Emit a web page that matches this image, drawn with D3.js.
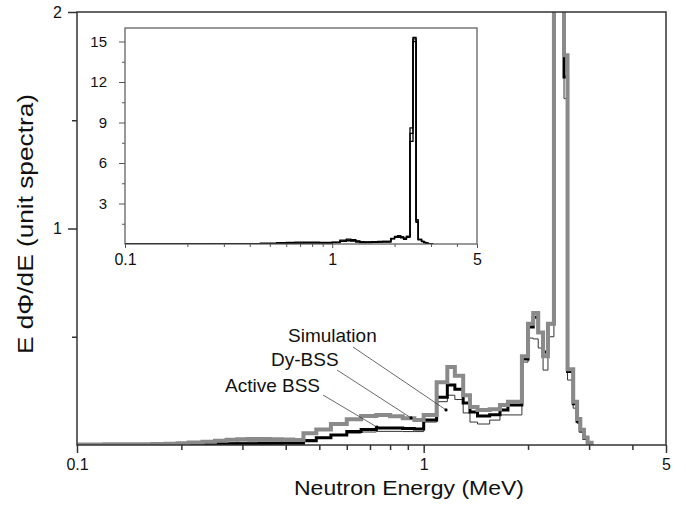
<!DOCTYPE html>
<html><head><meta charset="utf-8">
<script src="https://cdn.jsdelivr.net/npm/d3@7"></script>
<style>body{margin:0;background:#fff}svg{display:block}text{font-family:"Liberation Sans",Arial,sans-serif;fill:#111}</style>
</head><body>
<svg id="c" width="686" height="505"></svg>
<script>
// Energy bin edges (MeV)
const energyEdges = [0.1,0.11,0.12,0.13,0.14,0.15,0.165,0.18,0.195,0.21,0.23,0.25,0.27,0.29,0.31,0.335,0.36,0.39,0.42,0.45,
  0.49,0.54,0.6,0.66,0.73,0.8,0.87,0.94,1.0,
  1.09,1.17,1.23,1.30,1.36,1.43,1.55,1.66,1.75,1.92,2.0,2.07,2.14,2.21,2.283,2.375,2.455,2.54,2.6,2.7,2.77,2.83,2.9,2.97,3.05];
// Dy-BSS (grey thick)
const dyBSS = [0.002,0.002,0.003,0.003,0.004,0.004,0.005,0.006,0.008,0.011,0.015,0.02,0.024,0.027,0.028,0.028,0.027,0.025,0.023,
  0.054,0.072,0.097,0.119,0.134,0.139,0.133,0.124,0.115,
  0.139,0.29,0.36,0.32,0.23,0.176,0.162,0.165,0.185,0.2,0.41,0.56,0.61,0.52,0.41,0.56,8.6,15.3,1.8,0.35,0.2,0.12,0.07,0.035,0.01];
// Active BSS (black)
const activeBSS = [0.001,0.001,0.001,0.001,0.002,0.002,0.002,0.003,0.003,0.004,0.004,0.005,0.005,0.006,0.006,0.007,0.007,0.008,0.008,
  0.02,0.034,0.046,0.062,0.072,0.078,0.078,0.076,0.074,
  0.115,0.22,0.277,0.258,0.194,0.152,0.134,0.14,0.162,0.185,0.397,0.545,0.59,0.52,0.43,0.56,8.2,15.2,1.7,0.34,0.19,0.11,0.065,0.03,0.01];
// Simulation (thin)
const simulation = [0.001,0.001,0.002,0.002,0.003,0.003,0.004,0.005,0.006,0.007,0.009,0.011,0.012,0.013,0.014,0.014,0.014,0.013,0.013,
  0.025,0.035,0.045,0.055,0.06,0.063,0.063,0.062,0.062,
  0.106,0.2,0.23,0.21,0.148,0.106,0.097,0.115,0.139,0.139,0.383,0.494,0.49,0.448,0.346,0.5,7.6,15.0,1.6,0.3,0.17,0.1,0.06,0.03,0.008];

const xTickLabels = [0.1, 1, 5];
const xMinorTicks = [0.2,0.3,0.4,0.5,0.6,0.7,0.8,0.9,2,3,4];
const yMainLabels = [1, 2];
const yMainMinor = [0.5, 1.5];
const yInsetLabels = [3, 6, 9, 12, 15];
const yInsetMinor = [1.5, 4.5, 7.5, 10.5, 13.5];
const seriesNames = ["Simulation", "Dy-BSS", "Active BSS"];
const annotEnergy = [1.16, 0.92, 0.733];
const annotValue = [0.162, 0.125, 0.083];

const svg = d3.select("#c");
const X0 = 77, X1 = 666, Y0 = 445, Y1 = 12;
const x = d3.scaleLog().domain([0.1, 5]).range([X0, X1]);
const y = d3.scaleLinear().domain([0, 2]).range([Y0, Y1]);

function stepPoints(vals) {
  const pts = [];
  vals.forEach((v, i) => { pts.push([energyEdges[i], v]); pts.push([energyEdges[i + 1], v]); });
  pts.push([energyEdges[energyEdges.length - 1], 0]);
  return pts;
}

const defs = svg.append("defs");
defs.append("clipPath").attr("id", "mainClip").append("rect").attr("x", X0).attr("y", Y1).attr("width", X1 - X0).attr("height", Y0 - Y1);

const series = [
  {vals: simulation, color: "#333", w: 1},
  {vals: activeBSS, color: "#000", w: 3},
  {vals: dyBSS, color: "#8a8a8a", w: 4}
];
const lineMain = d3.line().x(d => x(d[0])).y(d => y(d[1]));
const gMain = svg.append("g").attr("clip-path", "url(#mainClip)");
series.forEach(s => {
  gMain.append("path").attr("d", lineMain(stepPoints(s.vals))).attr("fill", "none")
    .attr("stroke", s.color).attr("stroke-width", s.w).attr("stroke-linejoin", "miter");
});

// frame
svg.append("rect").attr("x", X0).attr("y", Y1).attr("width", X1 - X0).attr("height", Y0 - Y1)
  .attr("fill", "none").attr("stroke", "#333").attr("stroke-width", 1.5);

// x axis
const xAxis = d3.axisBottom(x).tickValues(xTickLabels).tickFormat(d3.format("")).tickSize(8).tickPadding(6);
const gx = svg.append("g").attr("transform", `translate(0,${Y0})`).call(xAxis);
gx.select(".domain").remove();
gx.selectAll("line").attr("stroke", "#333").attr("stroke-width", 1.5);
gx.selectAll("text").attr("font-size", 16).attr("fill", "#111");
const gxm = svg.append("g").attr("transform", `translate(0,${Y0})`).call(d3.axisBottom(x).tickValues(xMinorTicks).tickFormat("").tickSize(5));
gxm.select(".domain").remove();
gxm.selectAll("line").attr("stroke", "#333").attr("stroke-width", 1.5);

// y axis
const gy = svg.append("g").attr("transform", `translate(${X0},0)`).call(d3.axisLeft(y).tickValues(yMainLabels).tickFormat(d3.format("d")).tickSize(9).tickPadding(6));
gy.select(".domain").remove();
gy.selectAll("line").attr("stroke", "#333").attr("stroke-width", 1.5);
gy.selectAll("text").attr("font-size", 16).attr("fill", "#111");
const gym = svg.append("g").attr("transform", `translate(${X0},0)`).call(d3.axisLeft(y).tickValues(yMainMinor).tickFormat("").tickSize(5));
gym.select(".domain").remove();
gym.selectAll("line").attr("stroke", "#333").attr("stroke-width", 1.5);

// titles
svg.append("text").attr("x", 409).attr("y", 495).attr("text-anchor", "middle").attr("font-size", 21)
  .attr("textLength", 230).attr("lengthAdjust", "spacingAndGlyphs").text("Neutron Energy (MeV)");
svg.append("text").attr("transform", "translate(33,224) rotate(-90)").attr("text-anchor", "middle").attr("font-size", 22)
  .attr("textLength", 260).attr("lengthAdjust", "spacingAndGlyphs").text("E dΦ/dE (unit spectra)");

// annotations
const labelPos = [[288, 342, 353, 347], [271, 366, 337, 370], [225, 392, 323, 395]];
seriesNames.forEach((n, i) => {
  const [tx, ty, lx, ly] = labelPos[i];
  svg.append("text").attr("x", tx).attr("y", ty).attr("font-size", 19).text(n);
  const ex = x(annotEnergy[i]), ey = y(annotValue[i]);
  svg.append("line").attr("x1", lx).attr("y1", ly).attr("x2", ex).attr("y2", ey).attr("stroke", "#444").attr("stroke-width", 0.8);
  svg.append("circle").attr("cx", ex).attr("cy", ey).attr("r", 1.6).attr("fill", "#000");
});

// inset
const IX0 = 125, IX1 = 477, IY0 = 244, IY1 = 28;
const xi = d3.scaleLog().domain([0.1, 5]).range([IX0, IX1]);
const yi = d3.scaleLinear().domain([0, 16]).range([IY0, IY1]);
svg.append("rect").attr("x", IX0).attr("y", IY1).attr("width", IX1 - IX0).attr("height", IY0 - IY1).attr("fill", "#fff");
defs.append("clipPath").attr("id", "insetClip").append("rect").attr("x", IX0).attr("y", IY1).attr("width", IX1 - IX0).attr("height", IY0 - IY1);
const lineInset = d3.line().x(d => xi(d[0])).y(d => yi(d[1]));
const gIn = svg.append("g").attr("clip-path", "url(#insetClip)");
[simulation, activeBSS, dyBSS].forEach(v => {
  gIn.append("path").attr("d", lineInset(stepPoints(v))).attr("fill", "none").attr("stroke", "#000").attr("stroke-width", 1.3);
});
svg.append("rect").attr("x", IX0).attr("y", IY1).attr("width", IX1 - IX0).attr("height", IY0 - IY1)
  .attr("fill", "none").attr("stroke", "#555").attr("stroke-width", 1.2);
const gix = svg.append("g").attr("transform", `translate(0,${IY0})`).call(d3.axisBottom(xi).tickValues(xTickLabels).tickFormat(d3.format("")).tickSize(4).tickPadding(6));
gix.select(".domain").remove();
gix.selectAll("line").attr("stroke", "#555");
gix.selectAll("text").attr("font-size", 16).attr("fill", "#111");
const gixm = svg.append("g").attr("transform", `translate(0,${IY0})`).call(d3.axisBottom(xi).tickValues(xMinorTicks).tickFormat("").tickSize(3));
gixm.select(".domain").remove();
gixm.selectAll("line").attr("stroke", "#555");
const giy = svg.append("g").attr("transform", `translate(${IX0},0)`).call(d3.axisLeft(yi).tickValues(yInsetLabels).tickFormat(d3.format("d")).tickSize(6).tickPadding(12));
giy.select(".domain").remove();
giy.selectAll("line").attr("stroke", "#555");
giy.selectAll("text").attr("font-size", 15).attr("fill", "#111");
const giym = svg.append("g").attr("transform", `translate(${IX0},0)`).call(d3.axisLeft(yi).tickValues(yInsetMinor).tickFormat("").tickSize(3));
giym.select(".domain").remove();
giym.selectAll("line").attr("stroke", "#555");
</script>
</body></html>
